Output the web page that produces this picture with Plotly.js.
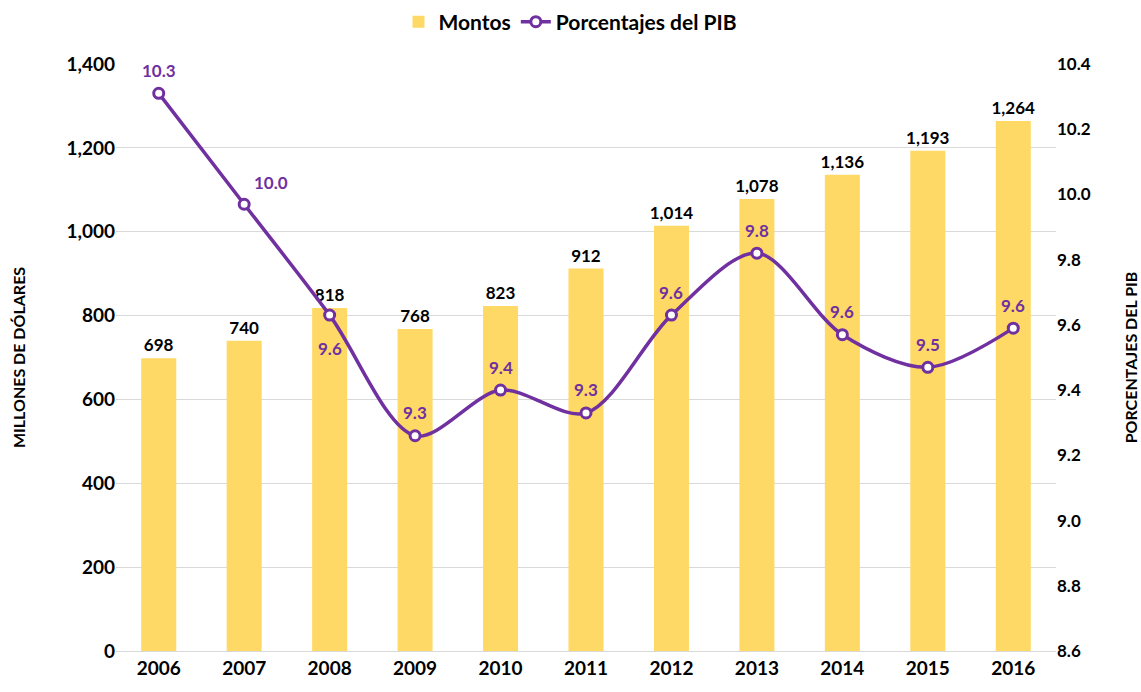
<!DOCTYPE html>
<html><head><meta charset="utf-8">
<script src="https://cdn.plot.ly/plotly-3.0.1.min.js"></script>
<style>html,body{margin:0;padding:0;background:#fff}#chart{width:1141px;height:692px}</style>
</head><body><div id="chart"></div>
<script>
const years = ['2006','2007','2008','2009','2010','2011','2012','2013','2014','2015','2016'];
const montos = [698, 740, 818, 768, 823, 912, 1014, 1078, 1136, 1193, 1264];
const porcentajes = [10.31, 9.97, 9.63, 9.26, 9.40, 9.33, 9.63, 9.82, 9.57, 9.47, 9.59];
const pctLabels = ['10.3','10.0','9.6','9.3','9.4','9.3','9.6','9.8','9.6','9.5','9.6'];
// label placement relative to each marker: 'above', 'aboveRight', 'below'
const pctPlacement = ['above','aboveRight','below','above','above','above','above','above','above','above','above'];

const F = 'Lato, "Open Sans", sans-serif';
const fmt = v => v.toLocaleString('en-US');

const traces = [
  {type:'bar', name:'Montos', x:years, y:montos, width:0.41,
   marker:{color:'#FFD966'},
   text:montos.map(fmt), textposition:'outside', cliponaxis:false, constraintext:'none',
   textfont:{family:F, size:17, color:'#000', weight:'bold'}},
  {type:'scatter', mode:'lines+markers', name:'Porcentajes del PIB', x:years, y:porcentajes, yaxis:'y2',
   line:{color:'#7030A0', width:3.5, shape:'spline', smoothing:0.9},
   marker:{symbol:'circle', size:10, color:'#fff', line:{color:'#7030A0', width:3}},
   cliponaxis:false}
];

const shifts = {above:[0,23], aboveRight:[27,22], below:[0,-33]};
const annotations = years.map((yr, i) => ({
  x: i, y: porcentajes[i], xref:'x', yref:'y2', text: pctLabels[i], showarrow:false,
  xshift: shifts[pctPlacement[i]][0], yshift: shifts[pctPlacement[i]][1],
  font:{family:F, size:17, color:'#7030A0', weight:'bold'}
}));

const layout = {
  width:1141, height:692,
  margin:{l:116, r:85, t:64, b:41, autoexpand:false},
  paper_bgcolor:'#fff', plot_bgcolor:'#fff',
  font:{family:F, color:'#000'},
  showlegend:true,
  annotations: annotations,
  legend:{orientation:'h', x:0.5, xref:'container', xanchor:'center', y:1-22/692, yref:'container', yanchor:'middle',
          font:{family:F, size:21, color:'#000', weight:'bold'}, traceorder:'normal'},
  xaxis:{type:'category', range:[-0.5, 10.5], autorange:false, showgrid:false, showline:true, linecolor:'#D9D9D9', linewidth:1,
         ticks:'', tickfont:{family:F, size:19, weight:'bold', color:'#000'}},
  yaxis:{range:[0,1400], dtick:200, tickformat:',d', showgrid:true, gridcolor:'#D9D9D9', zeroline:false,
         tickfont:{family:F, size:19, weight:'bold', color:'#000'}, ticks:'', ticklen:0,
         title:{text:'MILLONES DE DÓLARES', font:{family:F, size:16, weight:'bold', color:'#000'}, standoff:36}},
  yaxis2:{range:[8.6,10.4], dtick:0.2, tickformat:'.1f', overlaying:'y', side:'right', showgrid:false, zeroline:false,
          tickfont:{family:F, size:17, weight:'bold', color:'#000'},
          title:{text:'PORCENTAJES DEL PIB', font:{family:F, size:16, weight:'bold', color:'#000'}, standoff:36}}
};

Plotly.newPlot('chart', traces, layout, {displayModeBar:false});
</script></body></html>
